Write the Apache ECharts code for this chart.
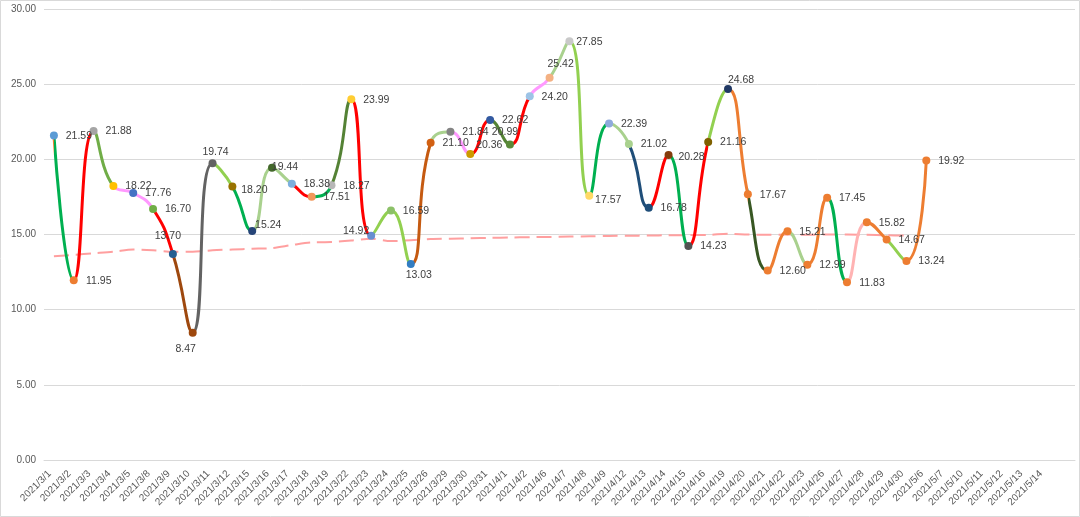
<!DOCTYPE html>
<html>
<head>
<meta charset="utf-8">
<script src="https://cdn.jsdelivr.net/npm/echarts@6/dist/echarts.min.js"></script>
<style>
html,body{margin:0;padding:0;background:#fff;}
#chart{width:1080px;height:517px;}
</style>
</head>
<body>
<div id="chart"></div>
<script>
// ---- data ----
const categories = ['2021/3/1','2021/3/2','2021/3/3','2021/3/4','2021/3/5','2021/3/8','2021/3/9','2021/3/10','2021/3/11','2021/3/12',
  '2021/3/15','2021/3/16','2021/3/17','2021/3/18','2021/3/19','2021/3/22','2021/3/23','2021/3/24','2021/3/25','2021/3/26',
  '2021/3/29','2021/3/30','2021/3/31','2021/4/1','2021/4/2','2021/4/6','2021/4/7','2021/4/8','2021/4/9','2021/4/12',
  '2021/4/13','2021/4/14','2021/4/15','2021/4/16','2021/4/19','2021/4/20','2021/4/21','2021/4/22','2021/4/23','2021/4/26',
  '2021/4/27','2021/4/28','2021/4/29','2021/4/30','2021/5/6','2021/5/7','2021/5/10','2021/5/11','2021/5/12','2021/5/13',
  '2021/5/14',''];
const values = [21.59,11.95,21.88,18.22,17.76,16.70,13.70,8.47,19.74,18.20,
  15.24,19.44,18.38,17.51,18.27,23.99,14.92,16.59,13.03,21.10,
  21.84,20.36,22.62,20.99,24.20,25.42,27.85,17.57,22.39,21.02,
  16.78,20.28,14.23,21.16,24.68,17.67,12.60,15.21,12.99,17.45,
  11.83,15.82,14.67,13.24,19.92];
const avgValues = [13.56,13.65,13.75,13.85,14.00,13.95,13.85,13.85,13.95,14.00,
  14.05,14.10,14.30,14.48,14.50,14.60,14.72,14.56,14.62,14.70,
  14.72,14.75,14.78,14.80,14.82,14.84,14.86,14.88,14.90,14.92,
  14.93,14.95,14.96,14.97,15.05,15.00,14.98,15.00,14.98,15.00,
  15.00,14.98,14.95,14.93];
const yMin = 0, yMax = 30, yStep = 5;

// ---- styles ----
const segmentColors = ['#00B050','#FF0000','#70AD47','#FF99FF','#FF99FF','#FF0000','#9E480E','#636363','#92D050','#00B050',
  '#A9D18E','#A9D18E','#FF0000','#00B050','#548235','#FF0000','#92D050','#92D050','#C55A11','#A9D18E',
  '#FF99FF','#FF0000','#548235','#FF0000','#FF99FF','#A9D18E','#92D050','#00B050','#A9D18E','#1F4E79',
  '#FF0000','#00B050','#FF0000','#92D050','#ED7D31','#385723','#ED7D31','#A9D18E','#ED7D31','#00B050',
  '#FFB3B3','#ED7D31','#92D050','#ED7D31'];
const pointColors = ['#5B9BD5','#ED7D31','#A5A5A5','#FFC000','#4472C4','#70AD47','#255E91','#9E480E','#636363','#997300',
  '#264478','#43682B','#7CAFDD','#F1975A','#B7B7B7','#FFCD33','#698ED0','#8CC168','#327DC2','#D26012',
  '#848484','#CC9A00','#335AA1','#5A8A39','#9DC3E6','#F4B183','#C9C9C9','#FFD966','#8FAADC','#A9D18E',
  '#1F4E79','#843C0C','#525252','#7F6000','#203864','#ED7D31','#ED7D31','#ED7D31','#ED7D31','#ED7D31',
  '#ED7D31','#ED7D31','#ED7D31','#ED7D31','#ED7D31'];
const defaultLabelOffset = [25, 0.5];
const labelOffsets = {6:[-5,-18],7:[-7,16],8:[3,-11],9:[22,4],10:[16,-6],11:[13,-1],16:[-15,-5],18:[8,11],
  21:[19,-9],23:[-5,-12],25:[11,-14],26:[20,1],27:[19,4],31:[23,2],34:[13,-9]};
const FONT = 'Liberation Sans';

const pieces = segmentColors.map((c, i) => ({gte: i, lt: i + 1, color: c}));
const pointData = values.map((v, i) => ({
  value: v,
  itemStyle: {color: pointColors[i], opacity: 1},
  label: {offset: labelOffsets[i] || defaultLabelOffset}
}));

const chart = echarts.init(document.getElementById('chart'), null, {renderer: 'canvas'});
chart.setOption({
  animation: false,
  backgroundColor: '#ffffff',
  graphic: [{
    type: 'rect', silent: true, z: -10,
    shape: {x: 0.5, y: 0.5, width: 1079, height: 516},
    style: {fill: 'none', stroke: '#D9D9D9', lineWidth: 1}
  }],
  grid: {left: 44, right: 5, top: 9, bottom: 57, containLabel: false},
  xAxis: {
    type: 'category',
    data: categories,
    boundaryGap: true,
    axisLine: {show: true, lineStyle: {color: '#D9D9D9', width: 1}},
    axisTick: {show: false},
    axisLabel: {
      interval: 0, rotate: 45, margin: 8, fontSize: 10, fontFamily: FONT, color: '#595959',
      padding: [0, 6, 0, 0]
    },
    splitLine: {show: false}
  },
  yAxis: {
    type: 'value',
    min: yMin, max: yMax, interval: yStep,
    axisLine: {show: false},
    axisTick: {show: false},
    axisLabel: {margin: 8, fontSize: 10, fontFamily: FONT, color: '#595959',
      formatter: v => v.toFixed(2)},
    splitLine: {lineStyle: {color: '#D9D9D9', width: 1}}
  },
  visualMap: {
    type: 'piecewise', show: false, dimension: 0, seriesIndex: 0,
    pieces: pieces, outOfRange: {color: '#ED7D31'}
  },
  series: [
    {
      type: 'line', data: values, smooth: 0.5, showSymbol: false, symbol: 'none',
      lineStyle: {width: 3}, z: 3
    },
    {
      type: 'line', data: avgValues, smooth: 0.3, showSymbol: false, symbol: 'none',
      lineStyle: {width: 2, type: [15, 7], color: '#FF9F9F'}, itemStyle: {color: '#FF9F9F'}, z: 2
    },
    {
      type: 'scatter', data: pointData, symbol: 'circle', symbolSize: 8, z: 5,
      itemStyle: {opacity: 1},
      label: {
        show: true, position: 'inside', align: 'center', verticalAlign: 'middle',
        color: '#404040', fontSize: 10.5, fontFamily: FONT, textBorderWidth: 0,
        formatter: p => p.value.toFixed(2)
      }
    }
  ]
});
</script>
</body>
</html>
